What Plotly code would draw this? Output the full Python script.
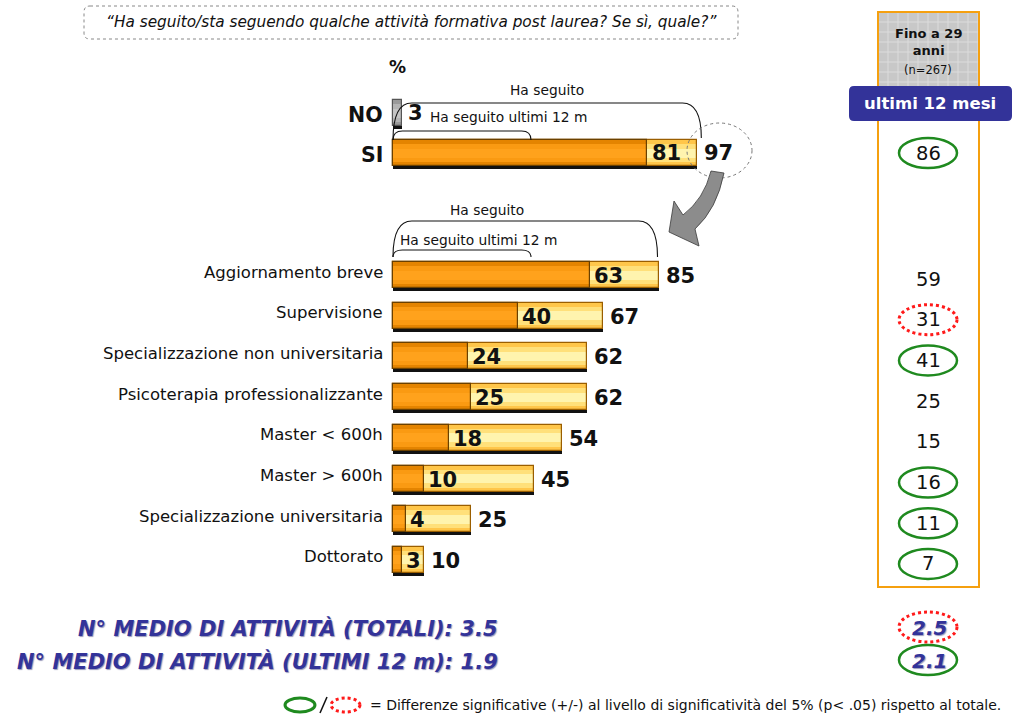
import plotly.graph_objects as go

# ---------------- DATA ----------------
top_labels = ["NO", "SI"]
top_ha_seguito = [3, 97]
top_ultimi_12m = [81]            # only for "SI"
categories = ["Aggiornamento breve", "Supervisione", "Specializzazione non universitaria",
              "Psicoterapia professionalizzante", "Master < 600h", "Master > 600h",
              "Specializzazione universitaria", "Dottorato"]
ha_seguito = [85, 67, 62, 62, 54, 45, 25, 10]
ultimi_12m = [63, 40, 24, 25, 18, 10, 4, 3]
fino29_si = 86
fino29_si_sig = "green"
fino29_values = [59, 31, 41, 25, 15, 16, 11, 7]
fino29_sig = ["", "red", "green", "", "", "green", "green", "green"]
medio_labels = ["N° MEDIO DI ATTIVITÀ (TOTALI): ", "N° MEDIO DI ATTIVITÀ (ULTIMI 12 m): "]
medio_values = [3.5, 1.9]
fino29_medio = [2.5, 2.1]
fino29_medio_sig = ["red", "green"]
column_header = "Fino a 29<br>anni"
column_n = "(n=267)"
column_badge = "ultimi 12 mesi"
question = "\u201cHa seguito/sta seguendo qualche attività formativa post laurea? Se sì, quale?\u201d"
footer = "= Differenze significative (+/-) al livello di significatività del 5% (p< .05) rispetto al totale."

# ---------------- LAYOUT HELPERS ----------------
W, H = 1013, 718
X0PX, PXU = 393, 3.13            # pixel of value 0, pixels per unit
FONT = "DejaVu Sans"
YELLOW, YELLOW_HI, YELLOW_HI2 = "#FFC64A", "#FFE07A", "#FFF4AE"
ORANGE, ORANGE_HI = "#E48400", "#FA9A12"
BLUE = "#333399"
GREEN = "#1F8A1F"
RED = "#FF1A1A"


def xp(px):   # pixel -> paper x
    return px / W


def yp(py):   # pixel -> paper y
    return 1 - py / H


def xu(px):   # pixel -> data x
    return (px - X0PX) / PXU


top_y = [113, 153]
row_y = [275 + 40.7 * i for i in range(len(categories))]
BAR_W = 26

fig = go.Figure()


def add_bars(xs, ys, base_color, hi_colors, line_color):
    # shadow
    fig.add_trace(go.Bar(x=xs, y=[y + 3 for y in ys], orientation="h", width=BAR_W,
                         marker=dict(color="#111111", line=dict(width=0)),
                         hoverinfo="skip", showlegend=False))
    fig.add_trace(go.Bar(x=xs, y=ys, orientation="h", width=BAR_W,
                         marker=dict(color=base_color, line=dict(width=0)),
                         hoverinfo="skip", showlegend=False))
    for w, c in zip([18, 9], hi_colors):
        fig.add_trace(go.Bar(x=xs, y=ys, orientation="h", width=w,
                             marker=dict(color=c, line=dict(width=0)),
                             hoverinfo="skip", showlegend=False))
    fig.add_trace(go.Bar(x=xs, y=ys, orientation="h", width=BAR_W,
                         marker=dict(color="rgba(0,0,0,0)", line=dict(width=1.2, color=line_color)),
                         hoverinfo="skip", showlegend=False))


# NO bar (grey)
add_bars([top_ha_seguito[0]], [top_y[0]], "#9A9A9A", ["#B4B4B4", "#C4C4C4"], "#555555")
# SI + categories: outer "Ha seguito"
add_bars([top_ha_seguito[1]] + ha_seguito, [top_y[1]] + row_y, YELLOW, [YELLOW_HI, YELLOW_HI2], "#9A5E00")
# inner "ultimi 12 m"
add_bars(top_ultimi_12m + ultimi_12m, [top_y[1]] + row_y, ORANGE, [ORANGE_HI, "#FFA21C"], "#6A4000")

ann = []
shapes = []


def text(x, y, t, size, color="#111111", xanchor="center", xref="paper", yref="paper", **kw):
    font = dict(family=FONT, size=size, color=color)
    font.update(kw.pop("font_extra", {}))
    d = dict(x=x, y=y, xref=xref, yref=yref, text=t, showarrow=False, xanchor=xanchor,
             yanchor="middle", font=font)
    d.update(kw)
    ann.append(d)


def rounded_rect(x0, x1, y0, y1, r, **kw):
    path = (f"M {xp(x0+r)},{yp(y0)} L {xp(x1-r)},{yp(y0)} Q {xp(x1)},{yp(y0)} {xp(x1)},{yp(y0+r)} "
            f"L {xp(x1)},{yp(y1-r)} Q {xp(x1)},{yp(y1)} {xp(x1-r)},{yp(y1)} "
            f"L {xp(x0+r)},{yp(y1)} Q {xp(x0)},{yp(y1)} {xp(x0)},{yp(y1-r)} "
            f"L {xp(x0)},{yp(y0+r)} Q {xp(x0)},{yp(y0)} {xp(x0+r)},{yp(y0)} Z")
    d = dict(type="path", xref="paper", yref="paper", path=path)
    d.update(kw)
    shapes.append(d)


# Title box
rounded_rect(84, 738, 6, 39, 6, line=dict(color="#888888", width=1, dash="dot"))
text(xp(411), yp(22), f"<i>{question}</i>", 15.3)

# % label
text(xp(397), yp(67), "<b>%</b>", 17)

# NO / SI labels
for lab, y in zip(top_labels, top_y):
    text(xp(385), y + 2, f"<b>{lab}</b>", 20.5, xanchor="right", yref="y")

# values for NO/SI
text(top_ha_seguito[0], top_y[0], f"<b>{top_ha_seguito[0]}</b>", 21, xanchor="left", xref="x", yref="y", xshift=4)
text(top_ultimi_12m[0], top_y[1], f"<b>{top_ultimi_12m[0]}</b>", 21, xanchor="left", xref="x", yref="y", xshift=3)
text(top_ha_seguito[1], top_y[1], f"<b>{top_ha_seguito[1]}</b>", 21, xanchor="left", xref="x", yref="y", xshift=5)

# category labels and values
for cat, y, hs, ul in zip(categories, row_y, ha_seguito, ultimi_12m):
    text(xp(385), y - 3, cat, 16.5, xanchor="right", yref="y")
    text(ul, y + 1, f"<b>{ul}</b>", 21, xanchor="left", xref="x", yref="y", xshift=2)
    text(hs, y + 1, f"<b>{hs}</b>", 21, xanchor="left", xref="x", yref="y", xshift=5)


# brackets
def bracket(xl, xr, ybase, ytop, rx, ry):
    return dict(type="path", xref="x", yref="y",
                path=(f"M {xl},{ybase} Q {xl},{ytop} {xl+rx},{ytop} L {xr-rx},{ytop} "
                      f"Q {xr},{ytop} {xr},{ybase+ry}"),
                line=dict(color="#111111", width=1.1))


shapes.append(bracket(0, top_ha_seguito[1] + 1.5, 140, 103, 6, -2))
shapes.append(bracket(0, xu(531), 140, 131, 3, 0))
shapes.append(bracket(0, ha_seguito[0] - 0.5, 257, 221, 6, 0))
shapes.append(bracket(0, xu(531), 257, 250, 3, 0))
text(xp(547), 90, "Ha seguito", 13.8, yref="y")
text(xp(508), 117, "Ha seguito ultimi 12 m", 13.8, yref="y")
text(xp(487), 210, "Ha seguito", 13.8, yref="y")
text(xp(478), 240, "Ha seguito ultimi 12 m", 13.8, yref="y")

# dotted ellipse round 97 and arrow
shapes.append(dict(type="circle", xref="paper", yref="paper", x0=xp(687), x1=xp(752), y0=yp(178), y1=yp(123),
                   line=dict(color="#777777", width=1, dash="dot")))
arrow_pts = "M {},{} L {},{} Q {},{} {},{} L {},{} L {},{} L {},{} L {},{} Q {},{} {},{} Z".format(
    xp(711), yp(171), xp(724), yp(173), xp(717), yp(209), xp(695), yp(229), xp(699), yp(246),
    xp(669), yp(232), xp(674), yp(201), xp(683), yp(215), xp(704), yp(199), xp(711), yp(171))
shapes.append(dict(type="path", xref="paper", yref="paper", path=arrow_pts,
                   fillcolor="#8C8C8C", line=dict(color="#3A3A3A", width=0.8)))

# right column
shapes.append(dict(type="rect", xref="paper", yref="paper", x0=xp(878), x1=xp(979), y0=yp(12), y1=yp(88),
                   fillcolor="#C8C8C8", line=dict(width=0), layer="below"))
for gx in range(888, 979, 10):
    shapes.append(dict(type="line", xref="paper", yref="paper", x0=xp(gx), x1=xp(gx), y0=yp(12), y1=yp(88),
                       line=dict(color="#DCDCDC", width=1), layer="below"))
for gy in range(22, 88, 10):
    shapes.append(dict(type="line", xref="paper", yref="paper", x0=xp(878), x1=xp(979), y0=yp(gy), y1=yp(gy),
                       line=dict(color="#DCDCDC", width=1), layer="below"))
shapes.append(dict(type="rect", xref="paper", yref="paper", x0=xp(878), x1=xp(979), y0=yp(12), y1=yp(587),
                   line=dict(color="#F5A00F", width=2)))
# badge
rounded_rect(849, 1012, 86, 121, 5, fillcolor=BLUE, line=dict(width=0))
text(xp(928), yp(42), f"<b>{column_header}</b>", 13)
text(xp(928), yp(70), column_n, 11.5)
text(xp(930), yp(103), f"<b>{column_badge}</b>", 16.5, color="white")


def sig_ellipse(cy, kind, rx=29, ry=15):
    if kind == "green":
        return dict(type="circle", xref="paper", yref="y", x0=xp(928 - rx), x1=xp(928 + rx), y0=cy - ry, y1=cy + ry,
                    line=dict(color=GREEN, width=2.5))
    return dict(type="circle", xref="paper", yref="y", x0=xp(928 - rx), x1=xp(928 + rx), y0=cy - ry, y1=cy + ry,
                line=dict(color=RED, width=3, dash="dot"))


col_vals = [fino29_si] + fino29_values
col_sig = [fino29_si_sig] + fino29_sig
col_y = [top_y[1]] + [y + 4 for y in row_y]
for v, s, y in zip(col_vals, col_sig, col_y):
    text(xp(928), y, str(v), 19.5, yref="y")
    if s:
        shapes.append(sig_ellipse(y, s))

# medio rows
medio_y = [628, 661]
for lab, v, y, fv, fs in zip(medio_labels, medio_values, medio_y, fino29_medio, fino29_medio_sig):
    text(xp(500), y, f"<b><i>{lab}{v}</i></b>", 21, color=BLUE, xanchor="right", yref="y",
         font_extra=dict(shadow="1px 1px 1px #9999bb"))
    text(xp(929), y, f"<b><i>{fv}</i></b>", 20, color=BLUE, yref="y",
         font_extra=dict(shadow="1px 1px 1px #9999bb"))
    shapes.append(sig_ellipse(y - 1, fs, rx=29, ry=15))

# footer legend
shapes.append(dict(type="circle", xref="paper", yref="paper", x0=xp(285), x1=xp(315), y0=yp(712), y1=yp(698),
                   line=dict(color=GREEN, width=3)))
shapes.append(dict(type="line", xref="paper", yref="paper", x0=xp(320), x1=xp(327), y0=yp(713), y1=yp(697),
                   line=dict(color="#111111", width=1.5)))
shapes.append(dict(type="circle", xref="paper", yref="paper", x0=xp(331), x1=xp(360), y0=yp(712), y1=yp(698),
                   line=dict(color=RED, width=3, dash="dot")))
text(xp(368), yp(705), footer, 14, xanchor="left")

fig.update_layout(
    width=W, height=H, margin=dict(l=0, r=0, t=0, b=0),
    paper_bgcolor="white", plot_bgcolor="white",
    barmode="overlay", bargap=0, showlegend=False,
    xaxis=dict(range=[xu(0), xu(W)], visible=False, fixedrange=True),
    yaxis=dict(range=[H, 0], visible=False, fixedrange=True),
    annotations=ann, shapes=shapes,
)

fig.write_html("out.html", config={"displayModeBar": False},
               post_script="document.body.style.margin='0px';document.body.style.overflow='hidden';")
